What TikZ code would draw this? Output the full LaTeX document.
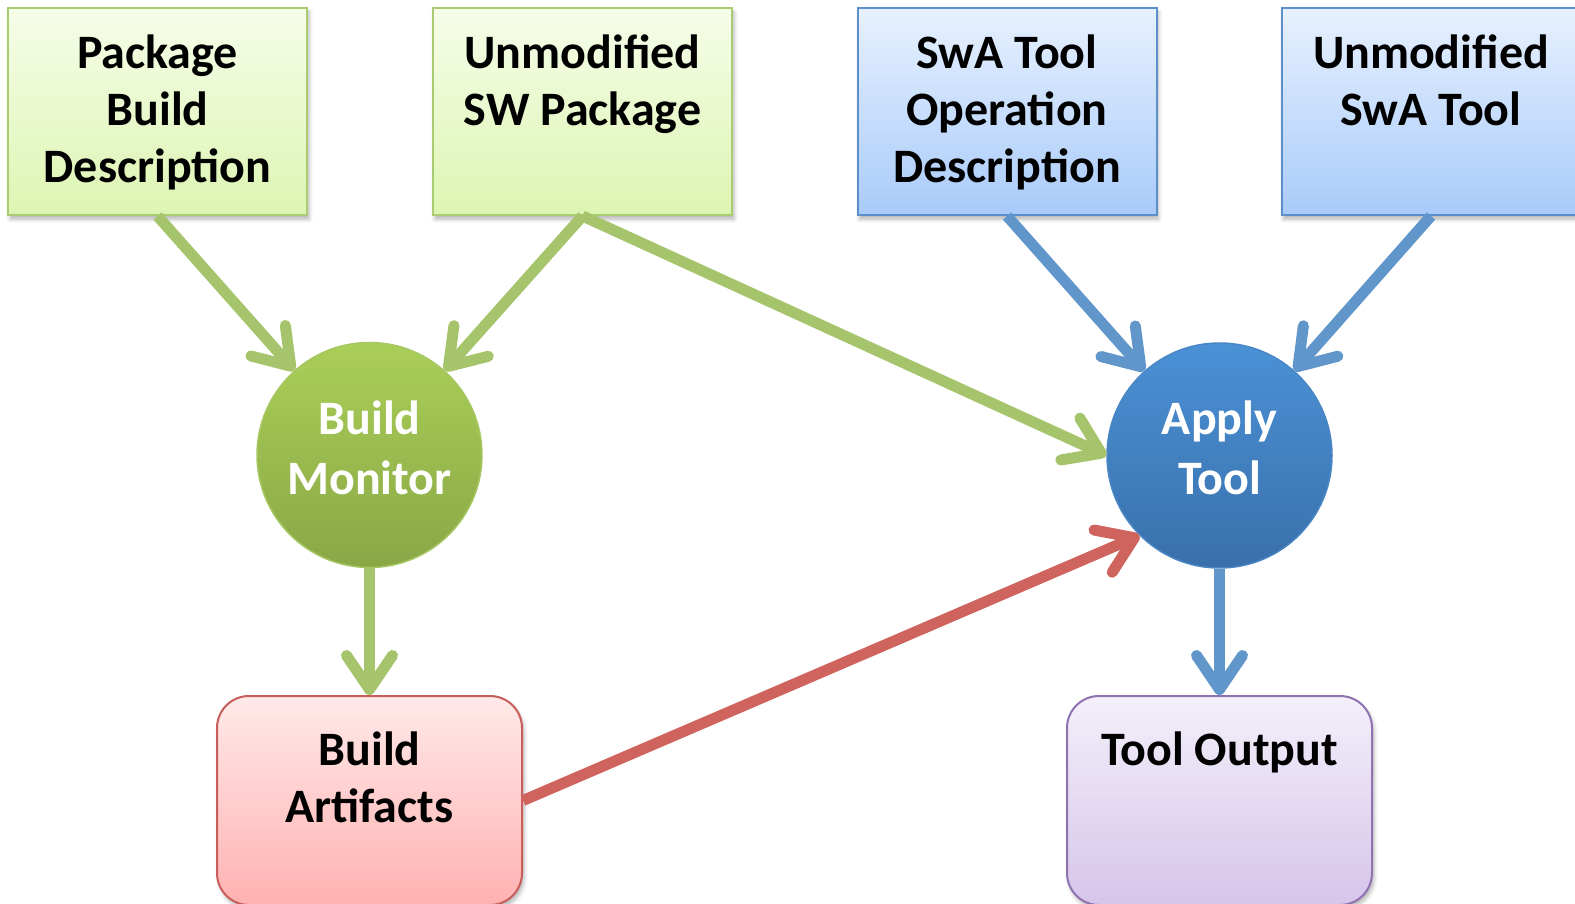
\documentclass[tikz,border=0pt]{standalone}
\usepackage{fontspec}
\setmainfont{Carlito}
\usetikzlibrary{arrows.meta,shadows.blur}

\definecolor{gtop}{HTML}{F6FDE9}
\definecolor{gbot}{HTML}{DDF5B2}
\definecolor{gbord}{HTML}{ABCB72}
\definecolor{btop}{HTML}{E7F1FE}
\definecolor{bbot}{HTML}{A9CBFA}
\definecolor{bbord}{HTML}{5D8FCA}
\definecolor{bmtop}{HTML}{AACF58}
\definecolor{bmbot}{HTML}{8AA746}
\definecolor{bmbord}{HTML}{A6C761}
\definecolor{attop}{HTML}{4A91D6}
\definecolor{atbot}{HTML}{3A70AB}
\definecolor{atbord}{HTML}{4A86C4}
\definecolor{batop}{HTML}{FFE9E9}
\definecolor{babot}{HTML}{FFB2B1}
\definecolor{babord}{HTML}{C85E5A}
\definecolor{totop}{HTML}{F3EFFA}
\definecolor{tobot}{HTML}{D6C5EA}
\definecolor{tobord}{HTML}{8F73B1}
\definecolor{agreen}{HTML}{A6C46B}
\definecolor{ablue}{HTML}{6196CB}
\definecolor{ared}{HTML}{CF645E}

\begin{document}
\begin{tikzpicture}[x=1pt,y=-1pt,
  srcbox/.style={rectangle, line width=2pt, minimum width=299pt,
    minimum height=207pt, inner sep=0pt,
    blur shadow={shadow xshift=2pt, shadow yshift=-4pt,
      shadow blur radius=4pt, shadow opacity=30}},
  greenbox/.style={srcbox, draw=gbord, top color=gtop, bottom color=gbot},
  bluebox/.style={srcbox, draw=bbord, top color=btop, bottom color=bbot},
  proc/.style={circle, minimum size=225pt, inner sep=0pt, line width=1.5pt},
  outbox/.style={rectangle, rounded corners=32pt, minimum width=305pt,
    minimum height=209pt, inner sep=0pt, line width=2pt,
    blur shadow={shadow xshift=2pt, shadow yshift=-4pt,
      shadow blur radius=4pt, shadow opacity=30}},
  lbl/.style={font=\bfseries\fontsize{48pt}{57pt}\selectfont,
    align=center, inner sep=0pt},
  clbl/.style={font=\bfseries\fontsize{48pt}{60pt}\selectfont,
    align=center, inner sep=0pt, text=white},
  flow/.style={line width=11pt,
    -{Straight Barb[length=34pt, width=46pt, round]}}
]
\useasboundingbox (0,0) rectangle (1575,904);

% inputs
\node[greenbox] (pbd) at (157.5,111.5) {};
\node[greenbox] (usp) at (582.5,111.5) {};
\node[bluebox] (swaop) at (1007,111.5) {};
\node[bluebox] (swatool) at (1431,111.5) {};
\node[lbl, anchor=north] (pbdt) at (157.5,34.5) {Package\\Build\\Description};
\node[lbl, anchor=north] (uspt) at (582.5,34.5) {Unmodified\\SW Package};
\node[lbl, anchor=north] (swaopt) at (1007,34.5) {SwA Tool\\Operation\\Description};
\node[lbl, anchor=north] (swatoolt) at (1431,34.5) {Unmodified\\SwA Tool};

% processes
\node[proc, draw=bmbord, top color=bmtop, bottom color=bmbot] (bm) at (369.5,455) {};
\node[clbl] (bmt) at (369.5,448) {Build\\Monitor};
\node[proc, draw=atbord, top color=attop, bottom color=atbot] (at) at (1219.5,455.5) {};
\node[clbl] (att) at (1219.5,448) {Apply\\Tool};

% outputs
\node[outbox, draw=babord, top color=batop, bottom color=babot] (ba) at (369.5,800.5) {};
\node[lbl, anchor=north] (bat) at (369.5,732) {Build\\Artifacts};
\node[outbox, draw=tobord, top color=totop, bottom color=tobot] (to) at (1219.5,800.5) {};
\node[lbl, anchor=north] (tot) at (1219.5,732) {Tool Output};

% flows
\draw[flow, agreen] (pbd.south) -- (bm);
\draw[flow, agreen] (usp.south) -- (bm);
\draw[flow, agreen] (usp.south) -- (at.west);
\draw[flow, ablue] (swaop.south) -- (at);
\draw[flow, ablue] (swatool.south) -- (at);
\draw[flow, agreen] (bm) -- (ba);
\draw[flow, ablue] (at) -- (to);
\draw[flow, ared] (ba.east) -- (at.225);
\end{tikzpicture}
\end{document}
